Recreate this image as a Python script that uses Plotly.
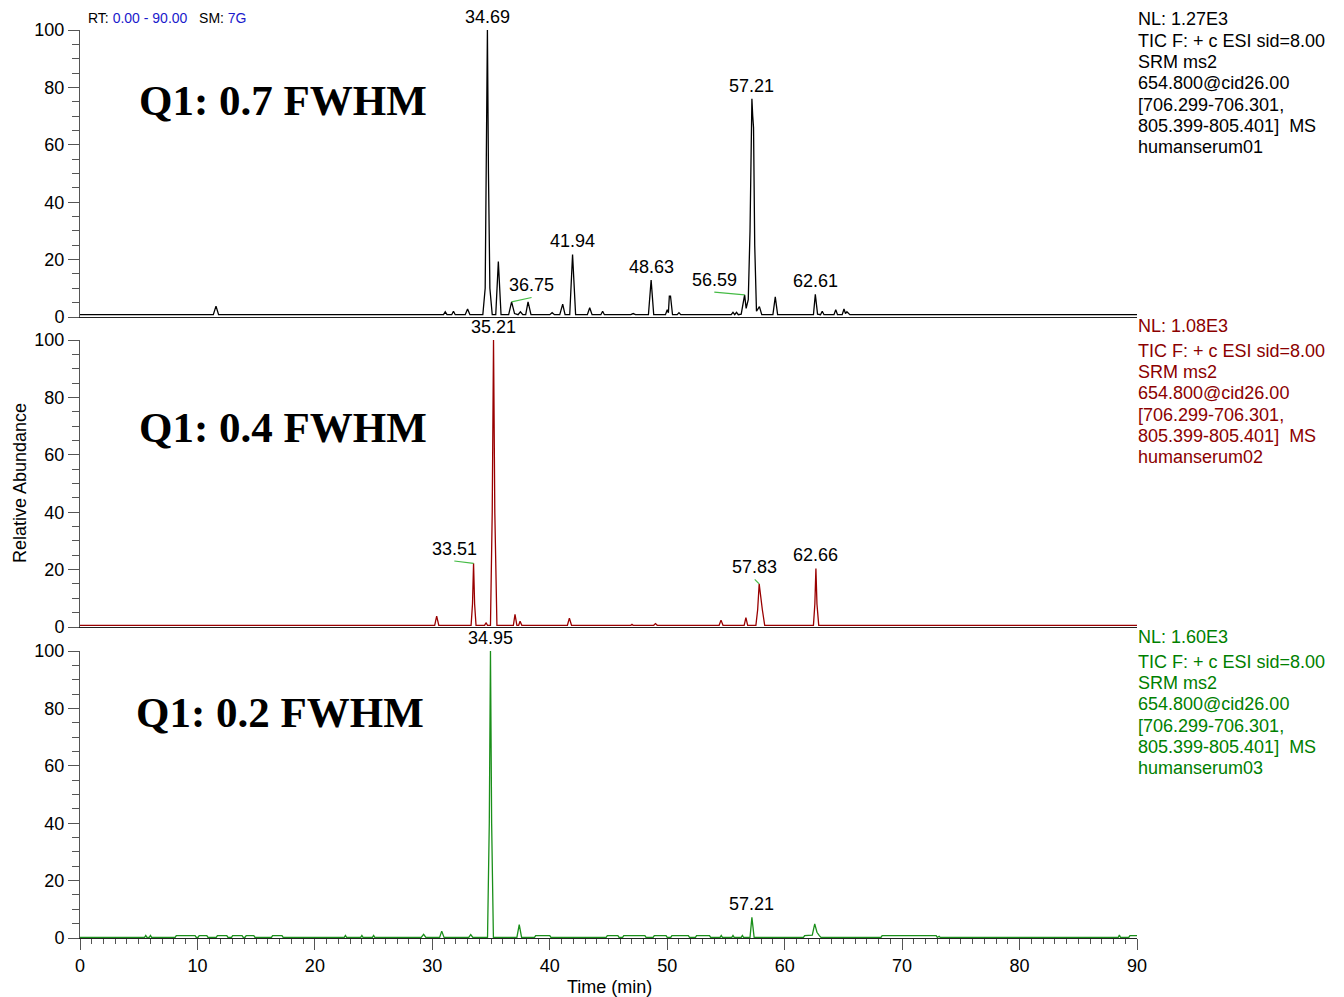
import plotly.graph_objects as go

# ---------------- data ----------------
# Panel 1: Q1 0.7 FWHM (humanserum01)
top_rt = [0.0, 11.35, 11.58, 11.80,
          30.95, 31.10, 31.25, 31.65, 31.80, 31.95,
          32.80, 33.00, 33.20,
          34.30, 34.50, 34.60, 34.69, 34.78, 34.90, 35.10,
          35.40, 35.62, 35.85,
          36.50, 36.75, 37.00,
          37.30, 37.50, 37.70,
          37.95, 38.15, 38.40,
          40.00, 40.20, 40.40,
          40.85, 41.10, 41.30,
          41.70, 41.94, 42.20,
          43.20, 43.40, 43.60,
          44.35, 44.50, 44.65,
          46.90, 47.10, 47.30,
          48.40, 48.63, 48.85,
          49.85, 50.00, 50.10, 50.18, 50.28, 50.45,
          50.85, 51.00, 51.15,
          55.45, 55.60, 55.75, 55.90, 56.05,
          56.30, 56.59, 56.72, 56.90, 57.05, 57.15, 57.21, 57.28, 57.35, 57.45, 57.60, 57.85, 58.05,
          59.00, 59.20, 59.40,
          62.45, 62.61, 62.80, 63.05, 63.20, 63.35,
          64.20, 64.35, 64.50,
          64.90, 65.05, 65.18, 65.30, 65.55,
          90.0]
top_ab = [0.8, 0.8, 3.8, 0.8,
          0.8, 1.8, 0.8, 0.8, 2.0, 0.8,
          0.8, 2.8, 0.8,
          0.8, 10.0, 50.0, 100.0, 50.0, 10.0, 0.8,
          0.8, 19.3, 0.8,
          0.8, 5.3, 1.2,
          0.8, 1.8, 0.8,
          0.8, 5.3, 0.8,
          0.8, 1.5, 0.8,
          0.8, 4.5, 0.8,
          0.8, 21.8, 0.8,
          0.8, 3.2, 0.8,
          0.8, 2.0, 0.8,
          0.8, 1.2, 0.8,
          0.8, 12.9, 0.8,
          0.8, 2.5, 1.5, 7.3, 7.3, 0.8,
          0.8, 1.5, 0.8,
          0.8, 1.6, 0.8, 1.6, 0.8,
          1.0, 7.7, 3.0, 6.0, 30.0, 70.0, 76.0, 70.0, 66.0, 25.0, 2.0, 3.6, 0.8,
          0.8, 7.0, 0.8,
          0.8, 7.9, 1.0, 0.8, 2.0, 0.8,
          0.8, 2.5, 0.8,
          0.8, 2.8, 1.2, 1.8, 0.8,
          0.8]

# Panel 2: Q1 0.4 FWHM (humanserum02)
mid_rt = [0.0, 30.20, 30.37, 30.55,
          33.30, 33.42, 33.51, 33.60, 33.72,
          34.45, 34.57, 34.70,
          34.95, 35.10, 35.21, 35.32, 35.50,
          36.90, 37.04, 37.20, 37.35, 37.47, 37.62,
          41.50, 41.67, 41.85,
          46.90, 47.00, 47.10,
          48.85, 49.00, 49.15,
          54.42, 54.58, 54.75,
          56.55, 56.70, 56.85,
          57.55, 57.70, 57.83, 57.95, 58.10, 58.30,
          62.45, 62.57, 62.66, 62.75, 62.90,
          90.0]
mid_ab = [0.6, 0.6, 3.8, 0.6,
          0.6, 8.0, 22.2, 8.0, 0.6,
          0.6, 1.5, 0.6,
          0.6, 40.0, 100.0, 40.0, 0.6,
          0.6, 4.4, 0.6, 0.6, 2.0, 0.6,
          0.6, 3.1, 0.6,
          0.6, 0.9, 0.6,
          0.6, 1.2, 0.6,
          0.6, 2.4, 0.6,
          0.6, 3.3, 0.6,
          0.6, 6.0, 15.0, 10.0, 6.0, 0.6,
          0.6, 8.0, 20.4, 8.0, 0.6,
          0.6]

# Panel 3: Q1 0.2 FWHM (humanserum03)
bot_rt = [0.0, 5.50, 5.60, 5.70, 5.90, 6.00, 6.10, 6.40,
          8.10, 8.20, 9.80, 9.90, 10.05, 10.15, 10.80, 10.90,
          11.60, 11.70, 12.50, 12.60, 12.90, 13.00, 13.80, 13.90,
          14.05, 14.15, 14.80, 14.90, 16.30, 16.40, 17.20, 17.30,
          22.50, 22.60, 22.70, 23.90, 24.00, 24.10, 24.90, 25.00, 25.10,
          29.05, 29.26, 29.45, 30.62, 30.80, 31.00, 33.10, 33.27, 33.45,
          34.70, 34.85, 34.95, 35.05, 35.20,
          37.20, 37.40, 37.60, 38.70, 38.80, 40.00, 40.10,
          44.80, 44.90, 45.80, 45.90, 46.20, 46.30, 48.10, 48.20,
          48.80, 48.90, 49.90, 50.00, 50.30, 50.40, 51.80, 51.90,
          52.40, 52.50, 53.60, 53.70, 54.50, 54.60, 54.70, 55.50, 55.60, 55.70, 56.30, 56.40, 56.50,
          57.05, 57.21, 57.40,
          61.60, 61.70, 62.00, 62.35, 62.56, 62.75, 62.95, 63.10,
          68.20, 68.30, 72.90, 73.00, 73.15, 73.25, 73.35,
          88.40, 88.50, 88.60, 89.30, 89.40, 90.0]
bot_ab = [0.2, 0.2, 0.9, 0.2, 0.2, 0.9, 0.2, 0.2,
          0.2, 0.8, 0.8, 0.2, 0.2, 0.8, 0.8, 0.2,
          0.2, 0.8, 0.8, 0.2, 0.2, 0.8, 0.8, 0.2,
          0.2, 0.8, 0.8, 0.2, 0.2, 0.8, 0.8, 0.2,
          0.2, 0.9, 0.2, 0.2, 0.9, 0.2, 0.2, 0.9, 0.2,
          0.2, 1.3, 0.2, 0.2, 2.4, 0.2, 0.2, 1.2, 0.2,
          0.2, 40.0, 100.0, 40.0, 0.2,
          0.2, 4.7, 0.2, 0.2, 0.8, 0.8, 0.2,
          0.2, 0.8, 0.8, 0.2, 0.2, 0.8, 0.8, 0.2,
          0.2, 0.8, 0.8, 0.2, 0.2, 0.8, 0.8, 0.2,
          0.2, 0.8, 0.8, 0.2, 0.2, 0.9, 0.2, 0.2, 0.9, 0.2, 0.2, 0.9, 0.2,
          0.2, 7.2, 0.2,
          0.2, 0.8, 0.8, 1.0, 4.9, 2.0, 0.8, 0.2,
          0.2, 0.8, 0.8, 0.2, 0.6, 0.2, 0.2,
          0.2, 1.0, 0.2, 0.2, 0.8, 0.8]

# labelled peaks
top_label_rt = [34.69, 36.75, 41.94, 48.63, 56.59, 57.21, 62.61]
top_label_ab = [100.0, 5.3, 21.8, 12.9, 7.7, 76.0, 7.9]
mid_label_rt = [33.51, 35.21, 57.83, 62.66]
mid_label_ab = [22.2, 100.0, 15.0, 20.4]
bot_label_rt = [34.95, 57.21]
bot_label_ab = [100.0, 7.2]

panel_titles = ["Q1: 0.7 FWHM", "Q1: 0.4 FWHM", "Q1: 0.2 FWHM"]
panel_nl = ["NL: 1.27E3", "NL: 1.08E3", "NL: 1.60E3"]
panel_files = ["humanserum01", "humanserum02", "humanserum03"]
info_lines = ["TIC F: + c ESI sid=8.00", "SRM ms2", "654.800@cid26.00",
              "[706.299-706.301,", "805.399-805.401]\u00a0 MS"]

y_ticks = [0, 20, 40, 60, 80, 100]
x_ticks = [0, 10, 20, 30, 40, 50, 60, 70, 80, 90]

# ---------------- styling / layout helpers ----------------
OFF = 8                      # page body margin of the html page
W, H = 1344 - OFF, 997 - OFF
ML, MT = 80 - OFF, 30 - OFF
MR = W - (1137 - OFF)
MB = H - (938 - OFF)
PW, PH = W - ML - MR, H - MT - MB
SANS = "Liberation Sans, Arial, sans-serif"
SERIF = "Liberation Serif, Times New Roman, serif"
colors = ["#000000", "#990000", "#1a8f1a"]
text_colors = ["#000000", "#8b0000", "#008000"]
LEAD = "#44bb44"
panel_top_px = [30, 340, 651]
panel_bot_px = [317, 627, 938]


def pyp(py):
    """page pixel y -> paper fraction"""
    return (MT + PH - (py - OFF)) / PH


def pxp(px):
    """page pixel x -> paper fraction"""
    return ((px - OFF) - ML) / PW


fig = go.Figure()
series = [(top_rt, top_ab), (mid_rt, mid_ab), (bot_rt, bot_ab)]
for i, (xs, ys) in enumerate(series):
    sfx = "" if i == 0 else str(i + 1)
    fig.add_trace(go.Scatter(x=xs, y=ys, mode="lines",
                             line=dict(color=colors[i], width=1.3),
                             xaxis="x" + sfx, yaxis="y" + sfx,
                             showlegend=False, hoverinfo="skip"))

annotations = []
label_sets = [(top_label_rt, top_label_ab), (mid_label_rt, mid_label_ab), (bot_label_rt, bot_label_ab)]
# leader offsets (minutes, abundance) for labels displaced from their apex
leader = {(0, 36.75): (1.70, 1.5), (0, 56.59): (-2.58, 0.95),
          (1, 33.51): (-1.64, 0.8), (1, 57.83): (-0.38, 1.6)}
for i, (lrt, lab) in enumerate(label_sets):
    sfx = "" if i == 0 else str(i + 1)
    for rt, ab in zip(lrt, lab):
        dx, dy = leader.get((i, rt), (0.0, 0.0))
        if (i, rt) in leader:
            fig.add_trace(go.Scatter(x=[rt, rt + dx], y=[ab, ab + dy], mode="lines",
                                     line=dict(color=LEAD, width=1.2),
                                     xaxis="x" + sfx, yaxis="y" + sfx,
                                     showlegend=False, hoverinfo="skip"))
        annotations.append(dict(x=rt + dx, y=ab + dy, xref="x" + sfx, yref="y" + sfx,
                                text=f"{rt:.2f}", showarrow=False, xanchor="center",
                                yanchor="bottom", yshift=0 if (i, rt) in leader else 1,
                                font=dict(family=SANS, size=18, color="black")))

title_px = [(283, 100), (283, 427), (280, 712)]
for i in range(3):
    top = panel_top_px[i]
    annotations.append(dict(x=pxp(title_px[i][0]), y=pyp(title_px[i][1]), xref="paper", yref="paper",
                            text=f"<b>{panel_titles[i]}</b>", showarrow=False,
                            xanchor="center", yanchor="middle",
                            font=dict(family=SERIF, size=43, color="black")))
    lines = [panel_nl[i]] + info_lines + [panel_files[i]]
    offs = [-14, 11, 32, 53, 75, 96, 117]
    if i == 0:
        offs[0] = -11          # keep the first line inside the page
    for t, o in zip(lines, offs):
        annotations.append(dict(x=pxp(1136), y=pyp(top + o), xref="paper", yref="paper",
                                text=t, showarrow=False, xanchor="left", yanchor="middle",
                                font=dict(family=SANS, size=18, color=text_colors[i])))

# header line (kept fully visible at the top-left, clear of the tick labels)
annotations.append(dict(x=pxp(86), y=pyp(OFF), xref="paper", yref="paper", showarrow=False,
                        xanchor="left", yanchor="top",
                        text="RT: <span style='color:#1a1acc'>0.00 - 90.00</span>   SM: <span style='color:#1a1acc'>7G</span>",
                        font=dict(family=SANS, size=14, color="black")))
annotations.append(dict(x=pxp(20), y=pyp(483), xref="paper", yref="paper", showarrow=False,
                        text="Relative Abundance", textangle=-90, xanchor="center", yanchor="middle",
                        font=dict(family=SANS, size=18, color="black")))
annotations.append(dict(x=pxp(609), y=pyp(987), xref="paper", yref="paper", showarrow=False,
                        text="Time (min)", xanchor="center", yanchor="middle",
                        font=dict(family=SANS, size=18, color="black")))

AX = "#555555"
layout = dict(width=W, height=H, margin=dict(l=ML, r=MR, t=MT, b=MB, pad=0),
              paper_bgcolor="white", plot_bgcolor="white",
              annotations=annotations, showlegend=False)
for i in range(3):
    sfx = "" if i == 0 else str(i + 1)
    d0 = pyp(panel_bot_px[i])
    d1 = pyp(panel_top_px[i])
    layout["yaxis" + sfx] = dict(domain=[max(d0, 0), min(d1, 1)], range=[0, 100], anchor="x" + sfx,
                                 tickmode="array", tickvals=y_ticks, ticks="outside", ticklen=11,
                                 tickcolor=AX, showline=True, linecolor=AX, linewidth=1,
                                 showgrid=False, zeroline=False,
                                 tickfont=dict(family=SANS, size=18, color="black"),
                                 minor=dict(dtick=5, tick0=0, ticks="outside", ticklen=7, tickcolor=AX))
    xa = dict(domain=[0, 1], range=[0, 90], anchor="y" + sfx, showgrid=False, zeroline=False,
              showline=True, linecolor="#222222", linewidth=1)
    if i < 2:
        xa.update(ticks="", showticklabels=False)
    else:
        xa.update(tickmode="array", tickvals=x_ticks, ticks="outside", ticklen=11, tickcolor=AX,
                  tickfont=dict(family=SANS, size=18, color="black"),
                  minor=dict(dtick=1, tick0=0, ticks="outside", ticklen=5, tickcolor=AX))
    layout["xaxis" + sfx] = xa
layout["xaxis4"] = dict(overlaying="x3", anchor="y3", range=[0, 90], side="bottom",
                        tickmode="linear", tick0=5, dtick=10, ticks="outside", ticklen=8,
                        tickcolor=AX, showticklabels=False, showgrid=False, zeroline=False,
                        showline=False)
fig.update_layout(**layout)
fig.write_html("out.html")
